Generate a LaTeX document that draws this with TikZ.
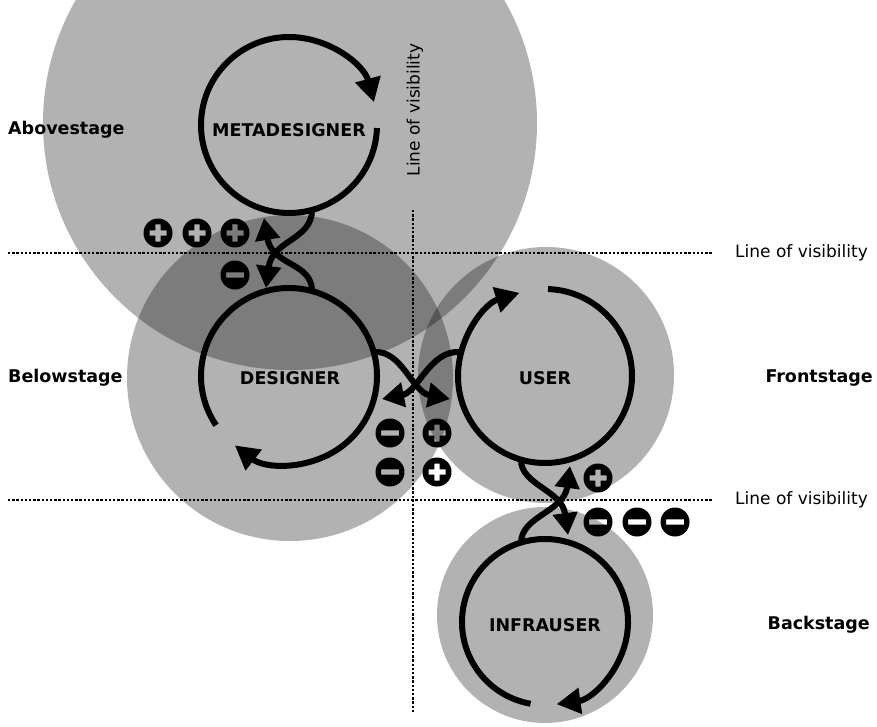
\documentclass[tikz,border=0pt]{standalone}
\usepackage{fontspec}
\setmainfont{DejaVu Sans}
\usetikzlibrary{arrows.meta}
\tikzset{
  pluscirc/.pic={\fill[black,even odd rule] (0,0) circle[radius=14.5]
     (-8.5,-2.7) -- (-2.7,-2.7) -- (-2.7,-8.5) -- (2.7,-8.5) -- (2.7,-2.7) -- (8.5,-2.7)
     -- (8.5,2.7) -- (2.7,2.7) -- (2.7,8.5) -- (-2.7,8.5) -- (-2.7,2.7) -- (-8.5,2.7) -- cycle;},
  minuscirc/.pic={\fill[black,even odd rule] (0,0) circle[radius=14.5]
     (-9,-2.7) rectangle (9,2.7);}
}
\begin{document}
\begin{tikzpicture}[x=1pt,y=-1pt,
  zone/.style={fill=black,fill opacity=0.3},
  loopline/.style={line width=6pt,-{Triangle[length=24pt,width=25pt]}},
  link/.style={line width=6pt,-{Triangle[length=22pt,width=24pt]}},
  vis/.style={line width=2.5pt,dash pattern=on 2.4pt off 1.8pt},
  lbl/.style={font=\fontsize{17.5}{20}\selectfont\bfseries, inner sep=0pt},
  visl/.style={font=\fontsize{17}{20}\selectfont, inner sep=0pt}]
\useasboundingbox (0,0) rectangle (877,727);
\fill[white] (0,0) rectangle (877,727);
\begin{scope}
\clip (0,0) rectangle (877,727);
% zones
\fill[zone] (290,123) circle[radius=247];
\fill[zone] (290,378) circle[radius=163];
\fill[zone] (546,375) circle[radius=128];
\fill[zone] (545,615) circle[radius=108];
\end{scope}
% lines of visibility
\coordinate (h1a) at (8,253); \coordinate (h1b) at (712,253);
\coordinate (h2a) at (8,500); \coordinate (h2b) at (712,500);
\coordinate (v1a) at (413,210); \coordinate (v1b) at (413,712);
\draw[vis] (h1a) -- (h1b);
\draw[vis] (h2a) -- (h2b);
\draw[vis] (v1a) -- (v1b);
\node[visl,anchor=west] (lv1) at (735,253) {Line of visibility};
\node[visl,anchor=west] (lv2) at (735,500) {Line of visibility};
\node[visl,rotate=90] (lv3) at (415,110) {Line of visibility};
% loop centres
\coordinate (meta) at (289,125);
\coordinate (des) at (289,376);
\coordinate (user) at (545,376);
\coordinate (infra) at (545,622);
% loops
\draw[loopline] (meta) ++(2:88) arc[start angle=2,end angle=345,radius=88];
\draw[loopline] (des) ++(146:88) arc[start angle=146,end angle=488,radius=88];
\draw[loopline] (user) ++(-88:87) arc[start angle=-88,end angle=253,radius=87];
\draw[loopline] (infra) ++(100:83) arc[start angle=100,end angle=442,radius=83];
% link ends
\coordinate (m1) at (312,210); \coordinate (m1e) at (266,288);
\coordinate (d1) at (312,291); \coordinate (d1e) at (264,218);
\coordinate (d2) at (374,352); \coordinate (d2e) at (450,399);
\coordinate (u1) at (460,352); \coordinate (u1e) at (382,399);
\coordinate (u2) at (521,460); \coordinate (u2e) at (568,535);
\coordinate (i1) at (521,543); \coordinate (i1e) at (570,466);
\draw[link] (m1) .. controls (312,240) and (272,240) .. (m1e);
\draw[link] (d1) .. controls (312,262) and (272,266) .. (d1e);
\draw[link] (d2) .. controls (402,350) and (412,392) .. (d2e);
\draw[link] (u1) .. controls (430,350) and (418,392) .. (u1e);
\draw[link] (u2) .. controls (521,485) and (562,490) .. (u2e);
\draw[link] (i1) .. controls (521,516) and (564,512) .. (i1e);
% names
\node[lbl] (tmeta) at (289,130) {METADESIGNER};
\node[lbl] (tdes) at (290,378) {DESIGNER};
\node[lbl] (tuser) at (545,378) {USER};
\node[lbl] (tinfra) at (545,625) {INFRAUSER};
\node[lbl,anchor=west] (sa) at (8,130) {Abovestage};
\node[lbl,anchor=west] (sb) at (8,378) {Belowstage};
\node[lbl,anchor=east] (sf) at (873,378) {Frontstage};
\node[lbl,anchor=east] (sk) at (870,625) {Backstage};
% signs
\pic (p1) at (158,233) {pluscirc};
\pic (p2) at (197,233) {pluscirc};
\pic (p3) at (235,233) {pluscirc};
\pic (n1) at (235,275) {minuscirc};
\pic (n2) at (390,433) {minuscirc};
\pic (p4) at (437,433) {pluscirc};
\pic (n3) at (390,472) {minuscirc};
\pic (p5) at (437,472) {pluscirc};
\pic (p6) at (598,478) {pluscirc};
\pic (n4) at (598,522) {minuscirc};
\pic (n5) at (637,522) {minuscirc};
\pic (n6) at (675,522) {minuscirc};
\end{tikzpicture}
\end{document}
